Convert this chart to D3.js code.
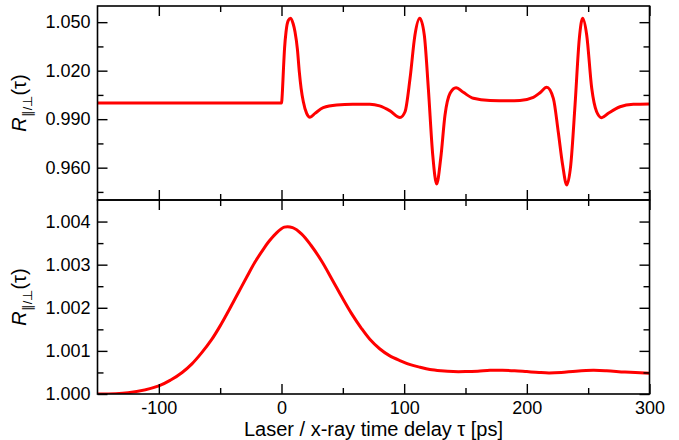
<!DOCTYPE html>
<html>
<head>
<meta charset="utf-8">
<script src="https://cdn.jsdelivr.net/npm/d3@7"></script>
<style>
  html, body { margin: 0; padding: 0; background: #fff; }
  svg { display: block; font-family: "Liberation Sans", Arial, Helvetica, sans-serif; }
</style>
</head>
<body>
<svg id="chart" width="679" height="440"></svg>
<script>
// Anisotropy ratio R(τ) versus laser / x-ray delay, two stacked panels.

// Upper panel: short-time oscillatory signal
const tauTop = [-150, -100, -50, 0, 0.8, 1.5, 2.5, 3.7, 5.5, 7.5, 9.5, 11, 13, 14.5, 16, 17.8,
  20.5, 23.2, 27.3, 34, 45, 58, 72, 80, 88.5, 96.6, 100.7, 104.8, 108.8, 112.7, 116.4,
  119.7, 123.3, 126.5, 129.8, 133.3, 137.4, 142.3, 148.2, 156.4, 170, 185, 194.4, 205.3,
  211, 216.2, 221.6, 225.6, 229.2, 232.5, 235.8, 239.3, 242.8, 245.5, 248.8, 252.9,
  256.9, 261, 266.4, 276, 286.8, 300];
const rTop = [1.0, 1.0, 1.0, 1.0, 1.008, 1.0194, 1.034, 1.0441, 1.051, 1.0524, 1.049, 1.0441,
  1.033, 1.0194, 1.009, 1.0008, 0.9936, 0.9912, 0.9936, 0.9971, 0.9988, 0.9992, 0.9992,
  0.9982, 0.9951, 0.991, 0.9946, 1.0153, 1.0421, 1.0524, 1.0421, 1.0091, 0.9678, 0.9499,
  0.9658, 0.9926, 1.006, 1.0095, 1.0066, 1.0029, 1.0016, 1.0014, 1.0016, 1.0035, 1.0065,
  1.0097, 1.0029, 0.9822, 0.9616, 0.9493, 0.9616, 0.9988, 1.04, 1.0524, 1.0421, 1.0091,
  0.9946, 0.9909, 0.9936, 0.9977, 0.9992, 0.9994];

// Lower panel: slow Gaussian-like response
const tauBottom = [-150, -125, -100, -90, -81, -73, -65, -57, -50, -42, -35, -28, -21.6, -15,
  -10.8, -5, 2.3, 9, 16.5, 24, 32.8, 41, 49, 57, 65, 72, 80, 88, 97, 105, 113, 121, 130,
  140, 150, 160, 170, 180, 190, 200, 210, 218, 228, 240, 254, 265, 280, 300];
const rBottom = [1.0, 1.00003, 1.00019, 1.00033, 1.0005, 1.0007, 1.00096, 1.00126, 1.00158,
  1.00199, 1.00236, 1.00273, 1.00306, 1.00335, 1.00352, 1.00371, 1.00387, 1.00386, 1.00371,
  1.00345, 1.00308, 1.00267, 1.00226, 1.00187, 1.00153, 1.00127, 1.00105, 1.00089, 1.00077,
  1.00068, 1.00062, 1.00057, 1.00054, 1.00052, 1.00052, 1.00053, 1.00055, 1.00055, 1.00054,
  1.00052, 1.0005, 1.00049, 1.0005, 1.00053, 1.00055, 1.00054, 1.00051, 1.00048];

// Axis ticks
const xMajor = [-100, 0, 100, 200, 300];
const xMinor = [-50, 50, 150, 250];
const xTickLabels = ["-100", "0", "100", "200", "300"];
const yTopMajor = [0.96, 0.99, 1.02, 1.05];
const yTopMinor = [0.945, 0.975, 1.005, 1.035];
const yTopLabels = ["0.960", "0.990", "1.020", "1.050"];
const yBottomMajor = [1.000, 1.001, 1.002, 1.003, 1.004];
const yBottomMinor = [1.0005, 1.0015, 1.0025, 1.0035];
const yBottomLabels = ["1.000", "1.001", "1.002", "1.003", "1.004"];

const xTitle = "Laser / x-ray time delay \u03c4 [ps]";

const svg = d3.select("#chart");
const left = 97.5, right = 649.5;
const topY0 = 6, midY = 200, botY1 = 394;

const x = d3.scaleLinear().domain([-150, 300]).range([left, right]);
const yTop = d3.scaleLinear().domain([0.94, 1.06]).range([midY, topY0]);
const yBot = d3.scaleLinear().domain([1.0, 1.0045]).range([botY1, midY]);

const MAJ = 10, MIN = 6;
const FONT = "'Liberation Sans', Arial, Helvetica, sans-serif";

function panel(y, y0, y1, major, minor, labels, rowsT, rowsV, drawXLabels, curve) {
  const g = svg.append("g");
  const clipId = "clip" + Math.round(y0);
  svg.append("clipPath").attr("id", clipId)
    .append("rect").attr("x", left).attr("y", y0).attr("width", right - left).attr("height", y1 - y0);

  // data line
  const data = rowsT.map((t, i) => [t, rowsV[i]]);
  const line = d3.line().x(d => x(d[0])).y(d => y(d[1])).curve(curve);
  g.append("path").datum(data)
    .attr("clip-path", `url(#${clipId})`)
    .attr("d", line)
    .attr("fill", "none").attr("stroke", "#ff0000").attr("stroke-width", 3)
    .attr("stroke-linejoin", "round");

  const noDomain = sel => sel.selectAll("path.domain").remove();
  const styleLines = sel => sel.selectAll(".tick line").attr("stroke", "#000").attr("stroke-width", 1.4);
  const addAxis = (axis, tx, ty) => {
    const a = g.append("g").attr("transform", `translate(${tx},${ty})`).call(axis);
    noDomain(a); styleLines(a);
    return a;
  };

  // left / right ticks (inward), labels on the left
  const lMaj = addAxis(d3.axisLeft(y).tickValues(major).tickSize(-MAJ)
    .tickFormat((d, i) => labels[i]).tickPadding(7), left, 0);
  lMaj.selectAll("text").attr("font-size", 18).attr("fill", "#000").attr("font-family", FONT);
  addAxis(d3.axisLeft(y).tickValues(minor).tickSize(-MIN).tickFormat(""), left, 0);
  addAxis(d3.axisRight(y).tickValues(major).tickSize(-MAJ).tickFormat(""), right, 0);
  addAxis(d3.axisRight(y).tickValues(minor).tickSize(-MIN).tickFormat(""), right, 0);

  // top / bottom ticks (inward)
  addAxis(d3.axisTop(x).tickValues(xMajor).tickSize(-MAJ).tickFormat(""), 0, y0);
  addAxis(d3.axisTop(x).tickValues(xMinor).tickSize(-MIN).tickFormat(""), 0, y0);
  const bMaj = addAxis(d3.axisBottom(x).tickValues(xMajor).tickSize(-MAJ)
    .tickFormat(drawXLabels ? (d, i) => xTickLabels[i] : "").tickPadding(7), 0, y1);
  bMaj.selectAll("text").attr("font-size", 18).attr("fill", "#000").attr("font-family", FONT);
  addAxis(d3.axisBottom(x).tickValues(xMinor).tickSize(-MIN).tickFormat(""), 0, y1);

  // frame
  g.append("rect").attr("x", left).attr("y", y0).attr("width", right - left).attr("height", y1 - y0)
    .attr("fill", "none").attr("stroke", "#000").attr("stroke-width", 1.6);

  // y-axis title
  const cy = (y0 + y1) / 2;
  const t = g.append("text")
    .attr("transform", `translate(26,${cy}) rotate(-90)`)
    .attr("text-anchor", "middle").attr("font-size", 20).attr("fill", "#000");
  t.append("tspan").attr("font-style", "italic").text("R");
  t.append("tspan").attr("font-size", 13).attr("dy", 6).text("\u2225/\u22a5");
  t.append("tspan").attr("dy", -6).text("(\u03c4)");
}

panel(yTop, topY0, midY, yTopMajor, yTopMinor, yTopLabels, tauTop, rTop, false, d3.curveMonotoneX);
panel(yBot, midY, botY1, yBottomMajor, yBottomMinor, yBottomLabels, tauBottom, rBottom, true,
  d3.curveCatmullRom.alpha(0.5));

svg.append("text")
  .attr("x", (left + right) / 2).attr("y", 435.5)
  .attr("text-anchor", "middle").attr("font-size", 20).attr("fill", "#000")
  .text(xTitle);
</script>
</body>
</html>
